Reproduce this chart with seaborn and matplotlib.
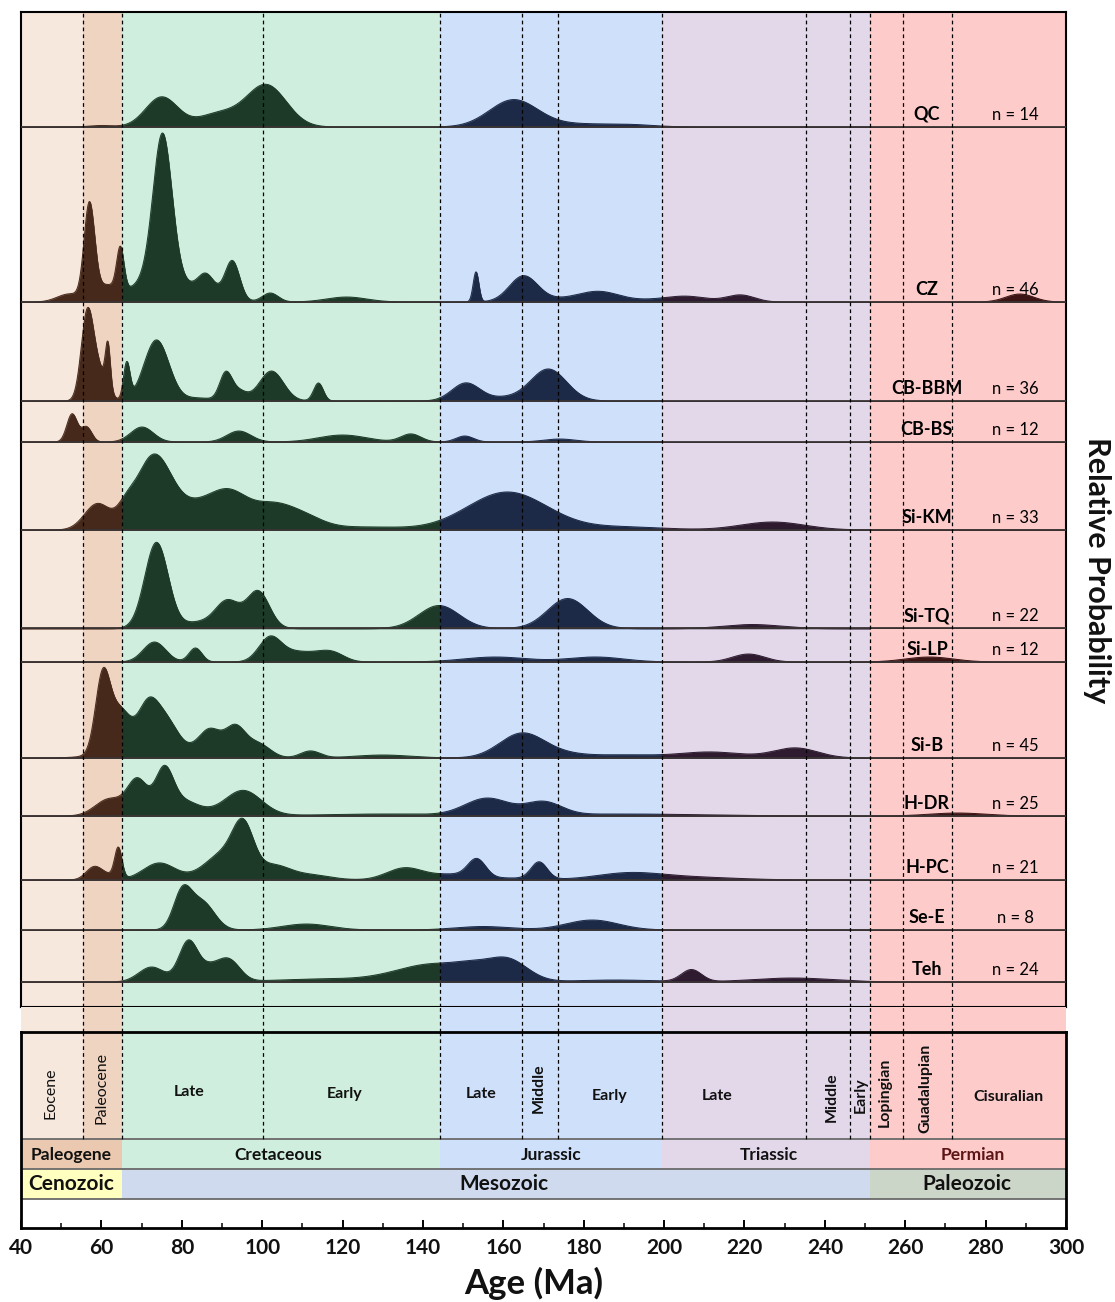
import numpy as np
import matplotlib
matplotlib.use("Agg")
import matplotlib.pyplot as plt
import seaborn as sns
from matplotlib.ticker import MultipleLocator

sns.set_theme(style="white")
plt.rcParams['font.family'] = ['Lato', 'DejaVu Sans']

# ------------------------------------------------------------------ data
samples = ["QC", "CZ", "CB-BBM", "CB-BS", "Si-KM", "Si-TQ", "Si-LP",
           "Si-B", "H-DR", "H-PC", "Se-E", "Teh"]
n_grains = [14, 46, 36, 12, 33, 22, 12, 45, 25, 21, 8, 24]

# probability peaks: (age Ma, peak height, spread Ma)
QC_peaks = [(60, 1.5, 3), (75, 30, 4), (89, 13, 5), (101, 42, 5), (162.5, 27, 6),
            (178, 3, 8), (192, 2, 6)]
CZ_peaks = [(52, 8, 3), (57, 92, 1.3), (61, 15, 3), (64.7, 42, 0.9), (75.2, 139, 2.3),
            (75, 30, 6), (86, 18, 2), (88, 6, 4), (92.6, 38, 1.8), (102, 9, 2),
            (121, 5, 5), (153.2, 30, 0.7), (165, 25, 3.5), (175, 3, 8), (184, 9, 5),
            (198, 2, 6), (206, 5, 5), (219, 7, 3.5), (288.5, 8, 3.5)]
CBBBM_peaks = [(56.4, 78, 1.5), (58.5, 28, 1.8), (61, 12, 1.5), (61.6, 42, 0.6),
               (66.3, 36, 0.8), (73.7, 61, 3.1), (84, 3, 4), (90.9, 26, 1.5),
               (94, 10, 2), (102.3, 30, 3), (114, 18, 1.2), (150.7, 18, 3.5),
               (160, 3, 4), (171.2, 32, 4.5)]
CBBS_peaks = [(52.7, 28, 1.3), (56.3, 15, 1.3), (70.1, 15, 2.8), (94.2, 11, 3),
              (120, 7, 6), (137, 8, 2.5), (150.4, 6, 2.2), (174, 3, 4)]
SiKM_peaks = [(59, 26, 3.2), (66, 12, 2), (73, 74, 4.5), (84, 22, 5), (92, 32, 4.5),
              (102, 22, 5), (110, 12, 5), (125, 3, 10), (161, 38, 10), (190, 3, 10),
              (227, 8, 8)]
SiTQ_peaks = [(73.7, 86, 2.9), (84, 6, 4), (91.4, 27, 3), (99, 37, 2.8), (144, 23, 5),
              (176, 30, 5), (222, 4, 7)]
SiLP_peaks = [(73.2, 20, 2.8), (83.4, 14, 1.6), (102, 25, 2.8), (108, 8, 3), (113, 6, 3),
              (117.5, 9, 3), (158, 5, 8), (183, 5, 7), (221, 8, 4), (266, 5, 6)]
SiB_peaks = [(60.3, 75, 1.8), (64.5, 38, 2.5), (72, 15, 8), (71.5, 36, 2.5), (76, 25, 3),
             (87, 26, 2.8), (93.3, 29, 2.5), (99, 14, 3), (112, 7, 2.5), (130, 3, 7),
             (164.5, 24, 5.5), (174, 4, 6), (190, 3, 8), (211.5, 6, 8), (232.7, 10, 5.5)]
HDR_peaks = [(62, 17, 3.5), (69, 35, 2.5), (75.6, 41, 2.2), (80, 14, 4), (95.3, 24, 4.5),
             (88, 2, 10), (130, 2, 15), (156, 17, 5.5), (170, 13, 4.5), (190, 2, 20),
             (273, 3, 7)]
HPC_peaks = [(58.2, 13, 2), (62, 4, 2), (64.2, 30, 0.9), (74.4, 17, 4), (91, 28, 5),
             (95.3, 40, 2.5), (103, 13, 4), (112, 5, 5), (135.5, 12, 4.5), (147, 5, 5),
             (153.4, 18, 2.2), (160, 2, 8), (168.9, 17, 2), (190.8, 6, 8), (205, 3, 12)]
SeE_peaks = [(80.1, 36, 2.2), (85, 28, 3.1), (111, 6, 6), (155, 3.5, 7), (182.1, 10, 6.5)]
Teh_peaks = [(72.5, 15, 3.2), (81.6, 40, 2.3), (86.5, 12, 2.5), (91.6, 22, 2.8),
             (115, 3, 12), (143, 18, 9.5), (152, 6, 4), (161, 21, 5), (188, 2, 10),
             (206.8, 12, 2.5), (232, 4, 10)]

all_peaks = [QC_peaks, CZ_peaks, CBBBM_peaks, CBBS_peaks, SiKM_peaks, SiTQ_peaks,
             SiLP_peaks, SiB_peaks, HDR_peaks, HPC_peaks, SeE_peaks, Teh_peaks]

# geologic time scale (Ma, as drawn)
periods = ["Paleogene", "Cretaceous", "Jurassic", "Triassic", "Permian"]
period_bounds = [(40, 65.2), (65.2, 144.2), (144.2, 199.5), (199.5, 251.3), (251.3, 300)]
epochs = ["Eocene", "Paleocene", "Late", "Early", "Late", "Middle", "Early", "Late",
          "Middle", "Early", "Lopingian", "Guadalupian", "Cisuralian"]
epoch_label_age = [47.4, 60.0, 81.8, 120.6, 154.4, 168.9, 186.5, 213.1, 241.7, 249.0,
                   254.9, 265.1, 285.8]
epoch_rotated = [True, True, False, False, False, True, False, False, True, True,
                 True, True, False]
epoch_lines = [55.5, 65.2, 100.1, 144.2, 164.7, 173.7, 199.5, 235.4, 246.2, 251.3,
               259.5, 271.7]
eras = ["Cenozoic", "Mesozoic", "Paleozoic"]
era_bounds = [(40, 65.2), (65.2, 251.3), (251.3, 300)]
era_label_age = [52.4, 160.1, 275.3]
period_label_age = [52.4, 103.9, 171.8, 226.0, 276.8]

# ------------------------------------------------------------------ style
band_colors = ["#f0d4c2", "#d0eedd", "#cfe0fb", "#e3d8ea", "#fecbcb"]
eocene_color = "#f7e8de"
period_row_colors = ["#ebc9b0", "#d0eedd", "#cfe0fb", "#e3d8ea", "#fecbcb"]
era_colors = ["#ffffc0", "#cfdaee", "#ccd6c8"]
fill_colors = ["#47291b", "#1c3a27", "#1c2a47", "#2e1b2f", "#3c1414"]
baselines = [127, 302, 401, 442, 530, 628.5, 662, 758, 816, 880, 930, 982]

W, H = 1115, 1302
fig = plt.figure(figsize=(W / 100, H / 100), dpi=100)
X0, X1 = 21, 1066


def fax(top, bottom):
    return fig.add_axes([X0 / W, 1 - bottom / H, (X1 - X0) / W, (bottom - top) / H])


def background(ax, epoch_split=True):
    for (a, b), c in zip(period_bounds, band_colors):
        ax.axvspan(a, b, color=c, lw=0, zorder=0)
    if epoch_split:
        ax.axvspan(40, epoch_lines[0], color=eocene_color, lw=0, zorder=0)


# ------------------------------------------------------------------ ridges
ax = fax(12, 1007)
ax.set_xlim(40, 300)
ax.set_ylim(1007, 12)
background(ax)

x = np.round(np.linspace(40, 300, 2601), 1)
for peaks, base in zip(all_peaks, baselines):
    d = np.zeros_like(x)
    for age, h, s in peaks:
        d += h * np.exp(-0.5 * ((x - age) / s) ** 2)
    for (a, b), c in zip(period_bounds, fill_colors):
        m = (x >= a) & (x <= b)
        ax.fill_between(x[m], base, base - d[m], color=c, lw=0.4, edgecolor=c, zorder=2)
        sns.lineplot(x=x[m], y=base - d[m], color=c, lw=0.7, ax=ax, zorder=2,
                     errorbar=None, estimator=None, sort=False)
    ax.axhline(base, color="#3a3434", lw=1.3, zorder=3)

for v in epoch_lines:
    ax.axvline(v, color="black", lw=0.9, ls=(0, (3, 2.5)), zorder=4)

for name, n, base in zip(samples, n_grains, baselines):
    ax.text(265.4, base - 7, name, ha="center", va="baseline", fontsize=13,
            fontweight="bold", color="black", zorder=5)
    ax.text(287.5, base - 7, f"n = {n}", ha="center", va="baseline", fontsize=12,
            color="black", zorder=5)

ax.set_xticks([])
ax.set_yticks([])
ax.set_xlabel("")
ax.set_ylabel("")
for sp in ax.spines.values():
    sp.set_visible(True)
    sp.set_color("black")
    sp.set_linewidth(1.5)

# ------------------------------------------------------------------ strip
axs = fax(1007, 1032)
axs.set_xlim(40, 300)
axs.set_ylim(0, 1)
background(axs)
for v in epoch_lines:
    axs.axvline(v, color="black", lw=0.9, ls=(0, (3, 2.5)), zorder=4)
axs.set_xticks([])
axs.set_yticks([])
for sp in axs.spines.values():
    sp.set_visible(False)

# ------------------------------------------------------------------ time scale
axt = fax(1032, 1228)
axt.set_xlim(40, 300)
axt.set_ylim(1228, 1032)
E0, E1, P1, R1 = 1032, 1139, 1169, 1199
for (a, b), c in zip(period_bounds, band_colors):
    axt.fill_between([a, b], E0, E1, color=c, lw=0, zorder=0)
axt.fill_between([40, epoch_lines[0]], E0, E1, color=eocene_color, lw=0, zorder=0)
for (a, b), c in zip(period_bounds, period_row_colors):
    axt.fill_between([a, b], E1, P1, color=c, lw=0, zorder=0)
for (a, b), c in zip(era_bounds, era_colors):
    axt.fill_between([a, b], P1, R1, color=c, lw=0, zorder=0)
for yy in (E1, P1, R1):
    axt.axhline(yy, color="#6a6a6a", lw=1.3, zorder=2)
for v in epoch_lines:
    axt.plot([v, v], [E0, E1], color="black", lw=0.9, ls=(0, (3, 2.5)), zorder=3)

epoch_y = [1093, 1088, 1092, 1094, 1094, 1088, 1096, 1096, 1097, 1095, 1092, 1088, 1097]
for name, a, rot, yy in zip(epochs, epoch_label_age, epoch_rotated, epoch_y):
    w = "normal" if name in ("Eocene", "Paleocene") else "bold"
    axt.text(a, yy, name, rotation=90 if rot else 0, ha="center", va="center",
             fontsize=11.5, fontweight=w, color="#111111", zorder=4)
for name, a in zip(periods, period_label_age):
    axt.text(a, 1155, name, ha="center", va="center", fontsize=12.5, fontweight="bold",
             color="#5c1414" if name == "Permian" else "#111111", zorder=4)
for name, a in zip(eras, era_label_age):
    axt.text(a, 1184, name, ha="center", va="center", fontsize=15, fontweight="bold",
             color="#111111", zorder=4)

axt.set_yticks([])
axt.set_xticks(np.arange(40, 301, 20))
axt.xaxis.set_minor_locator(MultipleLocator(10))
axt.tick_params(axis="x", which="major", direction="in", length=6, width=1.4,
                color="black", pad=7, labelsize=15, bottom=True)
axt.tick_params(axis="x", which="minor", direction="in", length=3.5, width=1.1,
                color="black", bottom=True)
for lab in axt.get_xticklabels():
    lab.set_fontweight("bold")
    lab.set_color("#111111")
for sp in axt.spines.values():
    sp.set_visible(True)
    sp.set_color("black")
    sp.set_linewidth(2)

fig.text(534 / W, 1 - 1283 / H, "Age (Ma)", ha="center", va="center", fontsize=25,
         fontweight="bold", color="#111111")
fig.text(1097 / W, 1 - 570 / H, "Relative Probability", ha="center", va="center",
         rotation=270, fontsize=22, fontweight="bold", color="#111111")

fig.savefig("out.png", dpi=100, facecolor="white")
